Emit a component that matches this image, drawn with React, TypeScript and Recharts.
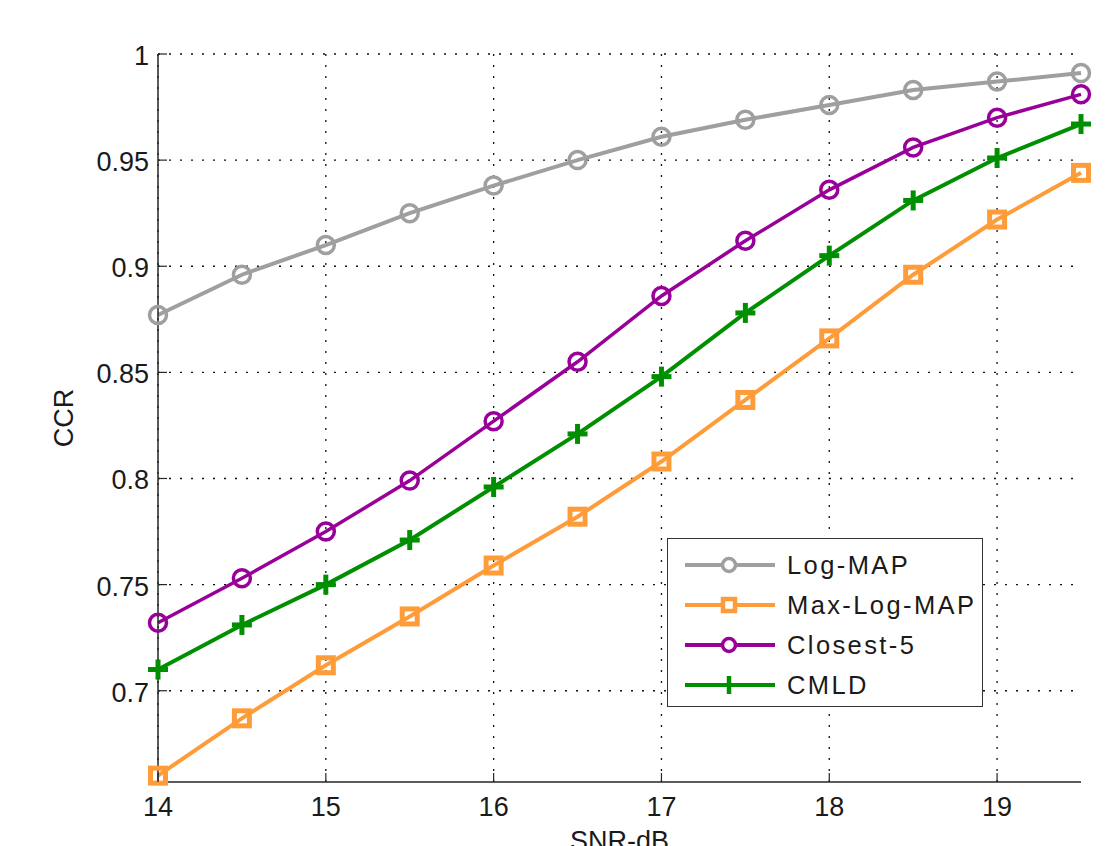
import React from 'react';
import { LineChart, Line, XAxis, YAxis, CartesianGrid } from 'recharts';

const snr = [14, 14.5, 15, 15.5, 16, 16.5, 17, 17.5, 18, 18.5, 19, 19.5];
const logMap = [0.877, 0.896, 0.910, 0.925, 0.938, 0.950, 0.961, 0.969, 0.976, 0.983, 0.987, 0.991];
const maxLogMap = [0.660, 0.687, 0.712, 0.735, 0.759, 0.782, 0.808, 0.837, 0.866, 0.896, 0.922, 0.944];
const closest5 = [0.732, 0.753, 0.775, 0.799, 0.827, 0.855, 0.886, 0.912, 0.936, 0.956, 0.970, 0.981];
const cmld = [0.710, 0.731, 0.750, 0.771, 0.796, 0.821, 0.848, 0.878, 0.905, 0.931, 0.951, 0.967];

const xTicks = [14, 15, 16, 17, 18, 19];
const yTicks = [0.7, 0.75, 0.8, 0.85, 0.9, 0.95, 1];
const yTickLabels = ['0.7', '0.75', '0.8', '0.85', '0.9', '0.95', '1'];

const seriesNames = ['Log-MAP', 'Max-Log-MAP', 'Closest-5', 'CMLD'];

const data = snr.map((s, i) => ({
  snr: s,
  logMap: logMap[i],
  maxLogMap: maxLogMap[i],
  closest5: closest5[i],
  cmld: cmld[i],
}));

const FONT = '"Liberation Sans", Arial, sans-serif';
const AX = '#262626';
const GRAY = '#9f9f9f';
const ORANGE = '#ff9c3a';
const PURPLE = '#990099';
const GREEN = '#008f00';
const TXT = '#1a1a1a';

const CircleDot = (color: string, r: number) => (p: any) => {
  if (p.cx == null || p.cy == null) return null;
  return <circle key={p.key} cx={p.cx} cy={p.cy} r={r} fill="none" stroke={color} strokeWidth={3.5} />;
};
const SquareDot = (p: any) => {
  if (p.cx == null || p.cy == null) return null;
  return <rect key={p.key} x={p.cx - 7.5} y={p.cy - 7.5} width={15} height={15} fill="none" stroke={ORANGE} strokeWidth={5} />;
};
const PlusDot = (p: any) => {
  if (p.cx == null || p.cy == null) return null;
  return (
    <g key={p.key}>
      <line x1={p.cx - 10} x2={p.cx + 10} y1={p.cy} y2={p.cy} stroke={GREEN} strokeWidth={5} />
      <line x1={p.cx} x2={p.cx} y1={p.cy - 10} y2={p.cy + 10} stroke={GREEN} strokeWidth={5} />
    </g>
  );
};

const BottomTick = (p: any) => (
  <g>
    <line x1={p.x} x2={p.x} y1={p.y} y2={p.y - 9} stroke={AX} strokeWidth={1.2} />
    <text x={p.x} y={p.y + 34} textAnchor="middle" fontSize={27} fontFamily={FONT} fill={TXT}>
      {p.payload.value}
    </text>
  </g>
);
const TopTick = (p: any) => (
  <line x1={p.x} x2={p.x} y1={p.y} y2={p.y + 9} stroke={AX} strokeWidth={1.2} />
);
const LeftTick = (p: any) => {
  const idx = yTicks.findIndex((v) => Math.abs(v - p.payload.value) < 1e-6);
  return (
    <g>
      <line x1={p.x} x2={p.x + 9} y1={p.y} y2={p.y} stroke={AX} strokeWidth={1.2} />
      <text x={p.x - 9} y={p.y + 11} textAnchor="end" fontSize={27} fontFamily={FONT} fill={TXT}>
        {idx >= 0 ? yTickLabels[idx] : p.payload.value}
      </text>
    </g>
  );
};
const RightTick = (p: any) => (
  <line x1={p.x} x2={p.x - 9} y1={p.y} y2={p.y} stroke={AX} strokeWidth={1.2} />
);

const XLabel = (p: any) => {
  const vb = p.viewBox || { x: 158, y: 782, width: 923, height: 64 };
  return (
    <text x={vb.x + vb.width / 2} y={vb.y + 68} textAnchor="middle" fontSize={27} fontFamily={FONT} fill={TXT}>
      SNR-dB
    </text>
  );
};
const YLabel = (p: any) => {
  const vb = p.viewBox || { x: 0, y: 54, width: 158, height: 728 };
  const cx = 73;
  const cy = vb.y + vb.height / 2;
  return (
    <text x={cx} y={cy} transform={`rotate(-90, ${cx}, ${cy})`} textAnchor="middle" fontSize={27} fontFamily={FONT} fill={TXT}>
      CCR
    </text>
  );
};

const legendItems = [
  { name: seriesNames[0], color: GRAY, kind: 'circle' },
  { name: seriesNames[1], color: ORANGE, kind: 'square' },
  { name: seriesNames[2], color: PURPLE, kind: 'circle' },
  { name: seriesNames[3], color: GREEN, kind: 'plus' },
];

const LegendIcon = ({ color, kind }: { color: string; kind: string }) => (
  <svg width={92} height={20} style={{ display: 'block' }}>
    <line x1={0} x2={90} y1={10} y2={10} stroke={color} strokeWidth={4} />
    {kind === 'circle' && <circle cx={44} cy={10} r={6.5} fill="white" stroke={color} strokeWidth={3.5} />}
    {kind === 'square' && <rect x={38} y={4} width={12} height={12} fill="white" stroke={color} strokeWidth={4.5} />}
    {kind === 'plus' && <line x1={44} x2={44} y1={1} y2={19} stroke={color} strokeWidth={4.5} />}
  </svg>
);

export default function App() {
  return (
    <div style={{ position: 'absolute', left: 0, top: 0, width: 1115, height: 846, background: 'white', overflow: 'hidden' }}>
      <LineChart width={1115} height={846} data={data} margin={{ top: 54, right: 34, bottom: 0, left: 0 }}>
        <CartesianGrid stroke="#111" strokeDasharray="2 9" strokeWidth={1.3} horizontalValues={yTicks} verticalValues={xTicks} />
        <XAxis
          dataKey="snr"
          type="number"
          domain={[14, 19.5]}
          ticks={xTicks}
          height={64}
          tickSize={0}
          tickMargin={0}
          tickLine={false}
          tick={BottomTick}
          axisLine={{ stroke: AX, strokeWidth: 1.5 }}
          label={XLabel}
        />
        <XAxis
          xAxisId="top"
          orientation="top"
          dataKey="snr"
          type="number"
          domain={[14, 19.5]}
          ticks={xTicks}
          allowDataOverflow
          height={0}
          tickSize={0}
          tickMargin={0}
          tickLine={false}
          tick={TopTick}
          axisLine={{ stroke: AX, strokeWidth: 1.5 }}
        />
        <YAxis
          type="number"
          domain={[0.657, 1]}
          ticks={yTicks}
          width={158}
          tickSize={0}
          tickMargin={0}
          tickLine={false}
          tick={LeftTick}
          axisLine={{ stroke: AX, strokeWidth: 1.5 }}
          label={YLabel}
        />
        <YAxis
          yAxisId="right"
          orientation="right"
          type="number"
          domain={[0.657, 1]}
          ticks={yTicks}
          allowDataOverflow
          width={0}
          tickSize={0}
          tickMargin={0}
          tickLine={false}
          tick={RightTick}
          axisLine={{ stroke: AX, strokeWidth: 1.5 }}
        />
        <Line dataKey="logMap" name={seriesNames[0]} stroke={GRAY} strokeWidth={4} dot={CircleDot(GRAY, 8.5)} isAnimationActive={false} />
        <Line dataKey="maxLogMap" name={seriesNames[1]} stroke={ORANGE} strokeWidth={4} dot={SquareDot} isAnimationActive={false} />
        <Line dataKey="closest5" name={seriesNames[2]} stroke={PURPLE} strokeWidth={3.5} dot={CircleDot(PURPLE, 8.5)} isAnimationActive={false} />
        <Line dataKey="cmld" name={seriesNames[3]} stroke={GREEN} strokeWidth={4} dot={PlusDot} isAnimationActive={false} />
      </LineChart>
      <div
        style={{
          position: 'absolute',
          left: 667,
          top: 538,
          width: 316,
          height: 169,
          border: '1.5px solid #333',
          background: 'white',
          boxSizing: 'border-box',
          fontFamily: FONT,
          fontSize: 25.5,
          letterSpacing: 2.4,
          color: TXT,
        }}
      >
        {legendItems.map((it, i) => (
          <div key={it.name} style={{ position: 'absolute', left: 17, top: 14 + i * 40, height: 24, display: 'flex', alignItems: 'center' }}>
            <LegendIcon color={it.color} kind={it.kind} />
            <span style={{ marginLeft: 10, lineHeight: '24px', whiteSpace: 'nowrap' }}>{it.name}</span>
          </div>
        ))}
      </div>
    </div>
  );
}
